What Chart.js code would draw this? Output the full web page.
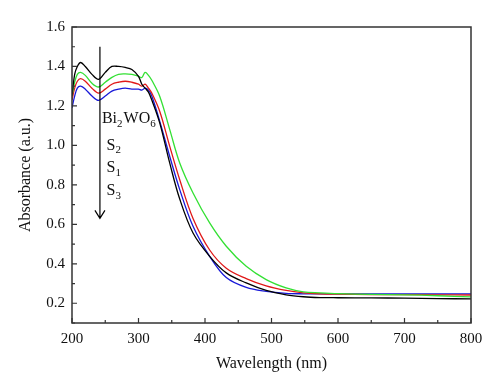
<!DOCTYPE html>
<html>
<head>
<meta charset="utf-8">
<script src="https://cdn.jsdelivr.net/npm/chart.js@4.4.0/dist/chart.umd.min.js"></script>
<style>
  html, body { margin: 0; padding: 0; background: #fff; }
</style>
</head>
<body>
<canvas id="grafico" width="500" height="389"></canvas>
<script>
// comprimento de onda (nm)
const comprimentos = [200, 204, 208, 213, 220, 230, 240, 250, 260, 270, 280, 290, 300, 305, 310, 315, 320,
    332, 347, 362, 382, 407, 432, 462, 492, 522, 548, 573, 600, 650, 700, 750, 800];

// absorbancia de cada amostra
const bi2wo6 = [1.25, 1.36, 1.40, 1.42, 1.40, 1.36, 1.335, 1.37, 1.40, 1.40, 1.395, 1.385, 1.35, 1.31, 1.29, 1.27, 1.23,
    1.113, 0.91, 0.728, 0.556, 0.438, 0.354, 0.303, 0.265, 0.243, 0.233, 0.229, 0.228, 0.227, 0.226, 0.224, 0.222];
const s2 = [1.25, 1.32, 1.36, 1.37, 1.355, 1.315, 1.296, 1.32, 1.345, 1.36, 1.362, 1.36, 1.35, 1.344, 1.37, 1.355, 1.33,
    1.248, 1.08, 0.911, 0.759, 0.607, 0.489, 0.387, 0.32, 0.278, 0.258, 0.253, 0.249, 0.245, 0.243, 0.238, 0.232];
const s1 = [1.23, 1.29, 1.325, 1.338, 1.325, 1.29, 1.265, 1.285, 1.31, 1.32, 1.325, 1.32, 1.31, 1.30, 1.31, 1.29, 1.265,
    1.172, 0.995, 0.826, 0.63, 0.47, 0.378, 0.325, 0.288, 0.265, 0.253, 0.248, 0.246, 0.244, 0.244, 0.243, 0.242];
const s3 = [1.19, 1.25, 1.29, 1.30, 1.285, 1.25, 1.228, 1.25, 1.275, 1.285, 1.29, 1.285, 1.285, 1.28, 1.29, 1.28, 1.25,
    1.122, 0.944, 0.776, 0.59, 0.438, 0.33, 0.28, 0.26, 0.25, 0.248, 0.248, 0.248, 0.248, 0.248, 0.248, 0.248];

const ticksX = [200, 300, 400, 500, 600, 700, 800];
const ticksXMenores = [250, 350, 450, 550, 650, 750];
const ticksY = [0.2, 0.4, 0.6, 0.8, 1.0, 1.2, 1.4, 1.6];
const ticksYMenores = [0.1, 0.3, 0.5, 0.7, 0.9, 1.1, 1.3, 1.5];

// seta e rotulos (coordenadas em unidades dos eixos)
const seta = { x: 242, yInicio: 1.50, yFim: 0.63 };
const rotulos = [
    { partes: [["Bi", 0], ["2", 1], ["WO", 0], ["6", 1]], x: 245, y: 1.135 },
    { partes: [["S", 0], ["2", 1]], x: 252, y: 1.0 },
    { partes: [["S", 0], ["1", 1]], x: 252, y: 0.885 },
    { partes: [["S", 0], ["3", 1]], x: 252, y: 0.768 }
];

const fonte = "'Liberation Serif', 'DejaVu Serif', serif";

const pares = arr => arr.map((v, i) => ({ x: comprimentos[i], y: v }));

const molduraPlugin = {
    id: "moldura",
    afterDraw(chart) {
        const { ctx, chartArea: a, scales: { x, y } } = chart;
        ctx.save();
        ctx.strokeStyle = "#333";
        ctx.lineWidth = 1.5;
        ctx.strokeRect(a.left, a.top, a.right - a.left, a.bottom - a.top);

        ctx.lineWidth = 1.2;
        ctx.beginPath();
        ticksX.forEach(v => { const p = x.getPixelForValue(v); ctx.moveTo(p, a.bottom); ctx.lineTo(p, a.bottom - 5); });
        ticksXMenores.forEach(v => { const p = x.getPixelForValue(v); ctx.moveTo(p, a.bottom); ctx.lineTo(p, a.bottom - 3); });
        ticksY.forEach(v => { const p = y.getPixelForValue(v); ctx.moveTo(a.left, p); ctx.lineTo(a.left + 5, p); });
        ticksYMenores.forEach(v => { const p = y.getPixelForValue(v); ctx.moveTo(a.left, p); ctx.lineTo(a.left + 3, p); });
        ctx.stroke();

        // seta
        const sx = x.getPixelForValue(seta.x);
        const sy0 = y.getPixelForValue(seta.yInicio);
        const sy1 = y.getPixelForValue(seta.yFim);
        ctx.strokeStyle = "#000";
        ctx.lineWidth = 1.2;
        ctx.beginPath();
        ctx.moveTo(sx, sy0);
        ctx.lineTo(sx, sy1);
        ctx.moveTo(sx - 5, sy1 - 8);
        ctx.lineTo(sx, sy1);
        ctx.lineTo(sx + 5, sy1 - 8);
        ctx.stroke();

        // rotulos com subscrito
        ctx.fillStyle = "#111";
        ctx.textBaseline = "middle";
        rotulos.forEach(r => {
            let px = x.getPixelForValue(r.x);
            const py = y.getPixelForValue(r.y);
            r.partes.forEach(([txt, sub]) => {
                ctx.font = sub ? "11px " + fonte : "16px " + fonte;
                ctx.fillText(txt, px, sub ? py + 5 : py);
                px += ctx.measureText(txt).width + (sub ? 1 : 0);
            });
        });
        ctx.restore();
    }
};

const serie = (dados, cor) => ({
    data: pares(dados),
    borderColor: cor,
    borderWidth: 1.3,
    pointRadius: 0,
    tension: 0.35,
    fill: false
});

new Chart(document.getElementById("grafico").getContext("2d"), {
    type: "line",
    data: {
        datasets: [
            serie(bi2wo6, "#000000"),
            serie(s2, "#33e033"),
            serie(s1, "#e01818"),
            serie(s3, "#1818d8")
        ]
    },
    options: {
        responsive: false,
        animation: false,
        devicePixelRatio: 1,
        layout: { padding: { top: 27, right: 29, left: 0, bottom: 0 } },
        plugins: { legend: { display: false }, tooltip: { enabled: false } },
        scales: {
            x: {
                type: "linear",
                min: 200,
                max: 800,
                afterFit: s => { s.height = 66; },
                afterBuildTicks: s => { s.ticks = ticksX.map(v => ({ value: v })); },
                grid: { display: false, drawTicks: false },
                border: { display: false },
                ticks: { padding: 7, color: "#111", font: { family: fonte, size: 15 } },
                title: { display: true, text: "Wavelength (nm)", color: "#111", font: { family: fonte, size: 16 }, padding: { top: 6, bottom: 16 } }
            },
            y: {
                type: "linear",
                min: 0.1,
                max: 1.6,
                afterFit: s => { s.width = 72; },
                afterBuildTicks: s => { s.ticks = ticksY.map(v => ({ value: v })); },
                grid: { display: false, drawTicks: false },
                border: { display: false },
                ticks: { padding: 7, color: "#111", font: { family: fonte, size: 15 }, callback: v => v.toFixed(1) },
                title: { display: true, text: "Absorbance (a.u.)", color: "#111", font: { family: fonte, size: 16 }, padding: { top: 16, bottom: 4 } }
            }
        }
    },
    plugins: [molduraPlugin]
});
</script>
</body>
</html>
